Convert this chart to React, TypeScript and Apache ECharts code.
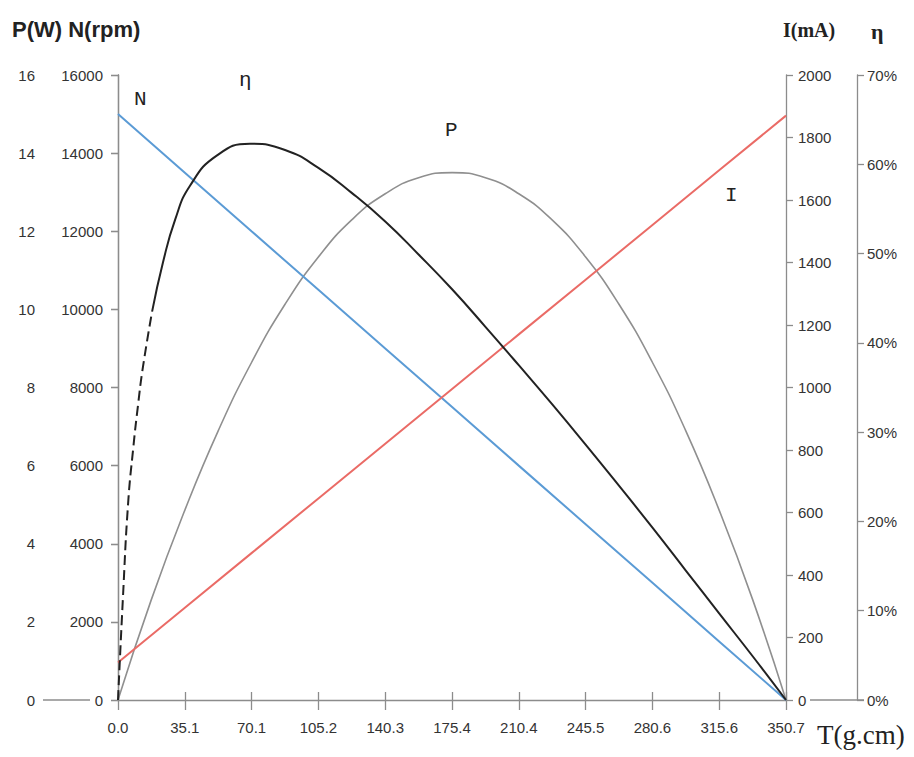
import React, { useEffect, useRef } from "react";
import * as echarts from "echarts";

// X axis tick labels (torque, g.cm)
const tTickLabels = ["0.0", "35.1", "70.1", "105.2", "140.3", "175.4", "210.4", "245.5", "280.6", "315.6", "350.7"];
const tMax = 350.7;

// Speed N (rpm) and current I (mA) read at each torque tick
const tTicks = [0, 35.1, 70.1, 105.2, 140.3, 175.4, 210.4, 245.5, 280.6, 315.6, 350.7];
const nValues = [15000, 13500, 12000, 10500, 9000, 7500, 6000, 4500, 3000, 1500, 0];
const iValues = [120, 295, 470, 645, 820, 995, 1170, 1345, 1520, 1695, 1870];

// Output power P (W)
const pT = [0, 17.5, 35.1, 52.6, 70.1, 87.7, 105.2, 122.7, 140.3, 157.8, 175.4, 192.9, 210.4, 227.9, 245.5, 263.0, 280.6, 298.1, 315.6, 333.2, 350.7];
const pValues = [0, 2.57, 4.86, 6.89, 8.64, 10.13, 11.34, 12.29, 12.96, 13.37, 13.5, 13.37, 12.96, 12.29, 11.34, 10.13, 8.64, 6.89, 4.86, 2.57, 0];

// Efficiency η (%) — dashed start and solid remainder
const etaDashT = [0, 2.6, 5.3, 7.9, 10.5, 13.1, 17.9];
const etaDashValues = [0, 11.5, 22.0, 28.0, 33.0, 37.3, 43.5];
const etaT = [17.9, 23.6, 30.0, 37.8, 52.0, 69.3, 87.7, 105.2, 122.7, 140.3, 157.8, 175.4, 192.9, 210.4, 228.0, 245.5, 263.0, 280.6, 298.1, 315.6, 333.2, 350.7];
const etaValues = [43.5, 49.0, 53.8, 57.6, 61.0, 62.3, 61.6, 59.6, 56.8, 53.6, 49.9, 46.0, 41.8, 37.5, 33.1, 28.6, 24.0, 19.3, 14.5, 9.7, 4.9, 0];

const zip = (xs: number[], ys: number[]) => xs.map((x, i) => [x, ys[i]]);

const AXIS_COLOR = "#8c8c8c";
const LABEL_COLOR = "#333";
const LABEL_FONT = "Liberation Sans";

function yAxisBase(position: "left" | "right", offset: number, max: number, interval: number, margin: number, formatter: (v: number) => string) {
  return {
    type: "value",
    position,
    offset,
    min: 0,
    max,
    interval,
    axisLine: { show: true, lineStyle: { color: AXIS_COLOR, width: 1.3 } },
    axisTick: { show: true, length: 7, lineStyle: { color: AXIS_COLOR, width: 1.3 } },
    axisLabel: { color: LABEL_COLOR, fontSize: 15, fontFamily: LABEL_FONT, margin, formatter },
    splitLine: { show: false },
  };
}

export default function App() {
  const ref = useRef<HTMLDivElement>(null);
  useEffect(() => {
    if (!ref.current) return;
    const chart = echarts.init(ref.current, undefined, { renderer: "svg" });
    const interval = tMax / 10;
    const plain = (v: number) => String(v);
    chart.setOption({
      animation: false,
      backgroundColor: "#fff",
      grid: { left: 118, right: 128, top: 75, bottom: 57, containLabel: false },
      xAxis: [
        {
          type: "value",
          min: 0,
          max: tMax,
          interval,
          axisLine: { show: true, onZero: false, lineStyle: { color: AXIS_COLOR, width: 1.3 } },
          axisTick: { show: true, length: 10, lineStyle: { color: AXIS_COLOR, width: 1.3 } },
          axisLabel: {
            color: LABEL_COLOR,
            fontSize: 15,
            fontFamily: LABEL_FONT,
            margin: 20,
            formatter: (v: number) => tTickLabels[Math.round(v / interval)] ?? "",
          },
          splitLine: { show: false },
        },
        {
          type: "value",
          position: "bottom",
          min: 0,
          max: tMax,
          interval,
          axisLine: { show: false },
          axisTick: { show: true, inside: true, length: 8, lineStyle: { color: AXIS_COLOR, width: 1.3 } },
          axisLabel: { show: false },
          splitLine: { show: false },
        },
      ],
      yAxis: [
        yAxisBase("left", 68, 16, 2, 15, plain),
        yAxisBase("left", 0, 16000, 2000, 15, plain),
        yAxisBase("right", 0, 2000, 200, 12, plain),
        yAxisBase("right", 71, 70, 10, 10, (v: number) => v + "%"),
      ],
      series: [
        {
          name: "P",
          type: "line",
          xAxisIndex: 0,
          yAxisIndex: 0,
          data: zip(pT, pValues),
          smooth: 0.5,
          showSymbol: false,
          lineStyle: { color: "#8f8f8f", width: 1.6 },
        },
        {
          name: "N",
          type: "line",
          xAxisIndex: 0,
          yAxisIndex: 1,
          data: zip(tTicks, nValues),
          showSymbol: false,
          lineStyle: { color: "#5b9bd5", width: 2 },
        },
        {
          name: "I",
          type: "line",
          xAxisIndex: 0,
          yAxisIndex: 2,
          data: zip(tTicks, iValues),
          showSymbol: false,
          lineStyle: { color: "#ea6b66", width: 2 },
        },
        {
          name: "η dashed",
          type: "line",
          xAxisIndex: 0,
          yAxisIndex: 3,
          data: zip(etaDashT, etaDashValues),
          smooth: 0.5,
          showSymbol: false,
          lineStyle: { color: "#222", width: 2, type: [10, 5] },
        },
        {
          name: "η",
          type: "line",
          xAxisIndex: 0,
          yAxisIndex: 3,
          data: zip(etaT, etaValues),
          smooth: 0.5,
          showSymbol: false,
          lineStyle: { color: "#222", width: 2 },
        },
      ],
      graphic: [
        { type: "line", shape: { x1: 43, y1: 700, x2: 90, y2: 700 }, style: { stroke: AXIS_COLOR, lineWidth: 1.3 } },
        { type: "line", shape: { x1: 810, y1: 700, x2: 864, y2: 700 }, style: { stroke: AXIS_COLOR, lineWidth: 1.3 } },
        {
          type: "text",
          left: 12,
          top: 18,
          style: { text: "P(W) N(rpm)", fontSize: 22, fontWeight: "bold", fontFamily: "Liberation Sans", fill: "#222" },
        },
        {
          type: "text",
          left: 783,
          top: 20,
          style: { text: "I(mA)", fontSize: 20, fontWeight: "bold", fontFamily: "Liberation Serif", fill: "#222" },
        },
        {
          type: "text",
          left: 871,
          top: 20,
          style: { text: "η", fontSize: 22, fontWeight: "bold", fontFamily: "Liberation Serif", fill: "#222" },
        },
        {
          type: "text",
          left: 817,
          top: 721,
          style: { text: "T(g.cm)", fontSize: 27, fontFamily: "Liberation Serif", fill: "#222" },
        },
        { type: "text", left: 134, top: 89, style: { text: "N", fontSize: 21, fontFamily: "Liberation Mono", fill: "#222" } },
        { type: "text", left: 239, top: 70, style: { text: "η", fontSize: 21, fontFamily: "Liberation Mono", fill: "#222" } },
        { type: "text", left: 445, top: 120, style: { text: "P", fontSize: 21, fontFamily: "Liberation Mono", fill: "#222" } },
        { type: "text", left: 725, top: 185, style: { text: "I", fontSize: 21, fontFamily: "Liberation Mono", fill: "#222" } },
      ],
    });
    return () => chart.dispose();
  }, []);
  return <div ref={ref} style={{ width: 914, height: 757, position: "absolute", left: 0, top: 0 }} />;
}
